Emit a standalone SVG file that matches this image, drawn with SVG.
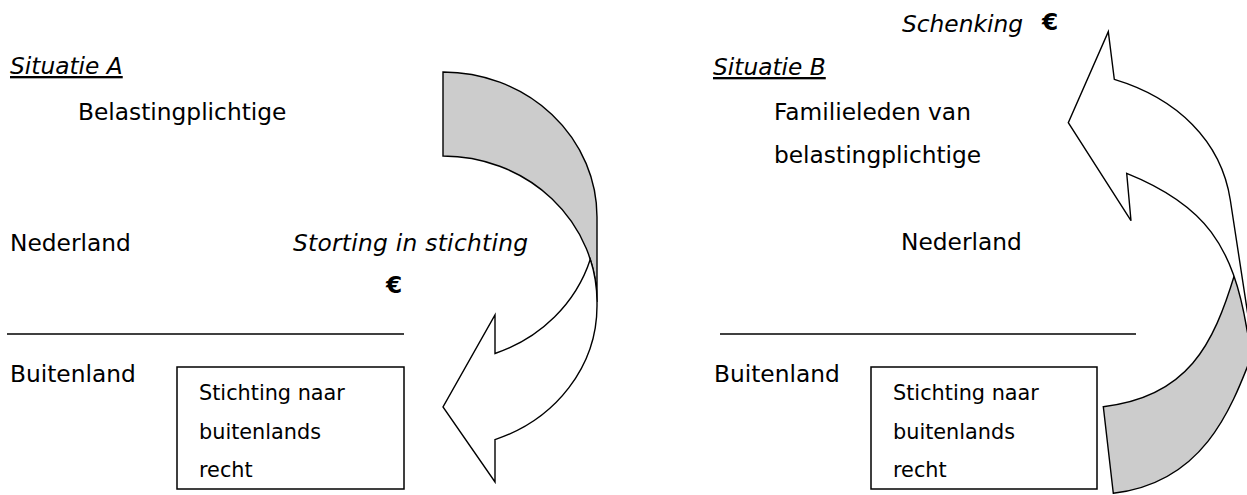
<svg xmlns="http://www.w3.org/2000/svg" width="1247" height="495" viewBox="0 0 1247 495">
<style>
text{font-family:"DejaVu Sans","Verdana",sans-serif;font-size:23.3px;fill:#000}
.it{font-style:italic}
.u{text-decoration:underline}
.b{font-weight:bold}
.box text{font-size:20.8px}
.box rect{fill:#fff;stroke:#000;stroke-width:1.5}
.sep{stroke:#000;stroke-width:1.6}
.back{fill:#cccccc;stroke:#000;stroke-width:1.4;stroke-linejoin:miter}
.front{fill:#fff;stroke:#000;stroke-width:1.4;stroke-linejoin:miter}
</style>
<rect width="1247" height="495" fill="#fff"/>

<g id="situatie-a">
  <text class="it u" x="10" y="74">Situatie A</text>
  <text x="78" y="119.5">Belastingplichtige</text>
  <text x="10" y="250.5">Nederland</text>
  <text class="it" x="293" y="250.5" textLength="235" lengthAdjust="spacing">Storting in stichting</text>
  <text class="b" x="386" y="293">€</text>
  <line class="sep" x1="7" y1="334" x2="404" y2="334"/>
  <text x="10" y="381.5">Buitenland</text>
</g>
<g id="stichting-a" class="box">
  <rect x="177" y="367" width="227" height="122"/>
  <text x="199" y="399.5">Stichting naar</text>
  <text x="199" y="438.5">buitenlands</text>
  <text x="199" y="476.5">recht</text>
</g>

<g id="situatie-b">
  <text class="it" x="902" y="31.5">Schenking</text>
  <text class="b" x="1042" y="30">€</text>
  <text class="it u" x="713" y="75">Situatie B</text>
  <text x="774" y="119.5">Familieleden van</text>
  <text x="774" y="163">belastingplichtige</text>
  <text x="901" y="249.5">Nederland</text>
  <line class="sep" x1="720" y1="334" x2="1136" y2="334"/>
  <text x="714" y="381.5">Buitenland</text>
</g>
<g id="stichting-b" class="box">
  <rect x="871" y="367" width="226" height="122"/>
  <text x="893" y="399.5">Stichting naar</text>
  <text x="893" y="438.5">buitenlands</text>
  <text x="893" y="476.5">recht</text>
</g>

<g id="connectors">
  <g id="arrow-storting">
    <path class="back" d="M443,72 A154,145 0 0 1 597,217 L597,302 A154,146 0 0 0 443,156 Z"/>
    <path class="front" d="M590.3,259.3 A154,146 0 0 1 597,302 L597,306 A154,142 0 0 1 495,439.6 L495,482 L443,407 L495,315 L495,353.5 A154,145 0 0 0 590.3,259.3 Z"/>
  </g>
  <g id="arrow-schenking">
    <path class="back" d="M1103.3,406.7 C1187.7,396.9 1213.3,345.3 1235,273.3 C1240,290 1246,318 1250,345 L1270,345 L1270,360 L1252,355 C1230.4,410.8 1202.7,482.9 1113.3,493.3 Z"/>
    <path class="front" d="M1114.3,79.3 C1176.6,98 1221.3,140.6 1230.3,200 L1254,355 L1270,355 L1270,345 L1250,345 C1247,330 1247,330 1247,330 C1233.1,246.1 1205.6,205 1126.7,173.3 L1131,220.7 L1068.3,122.7 L1108.3,31.7 Z"/>
  </g>
</g>
</svg>
